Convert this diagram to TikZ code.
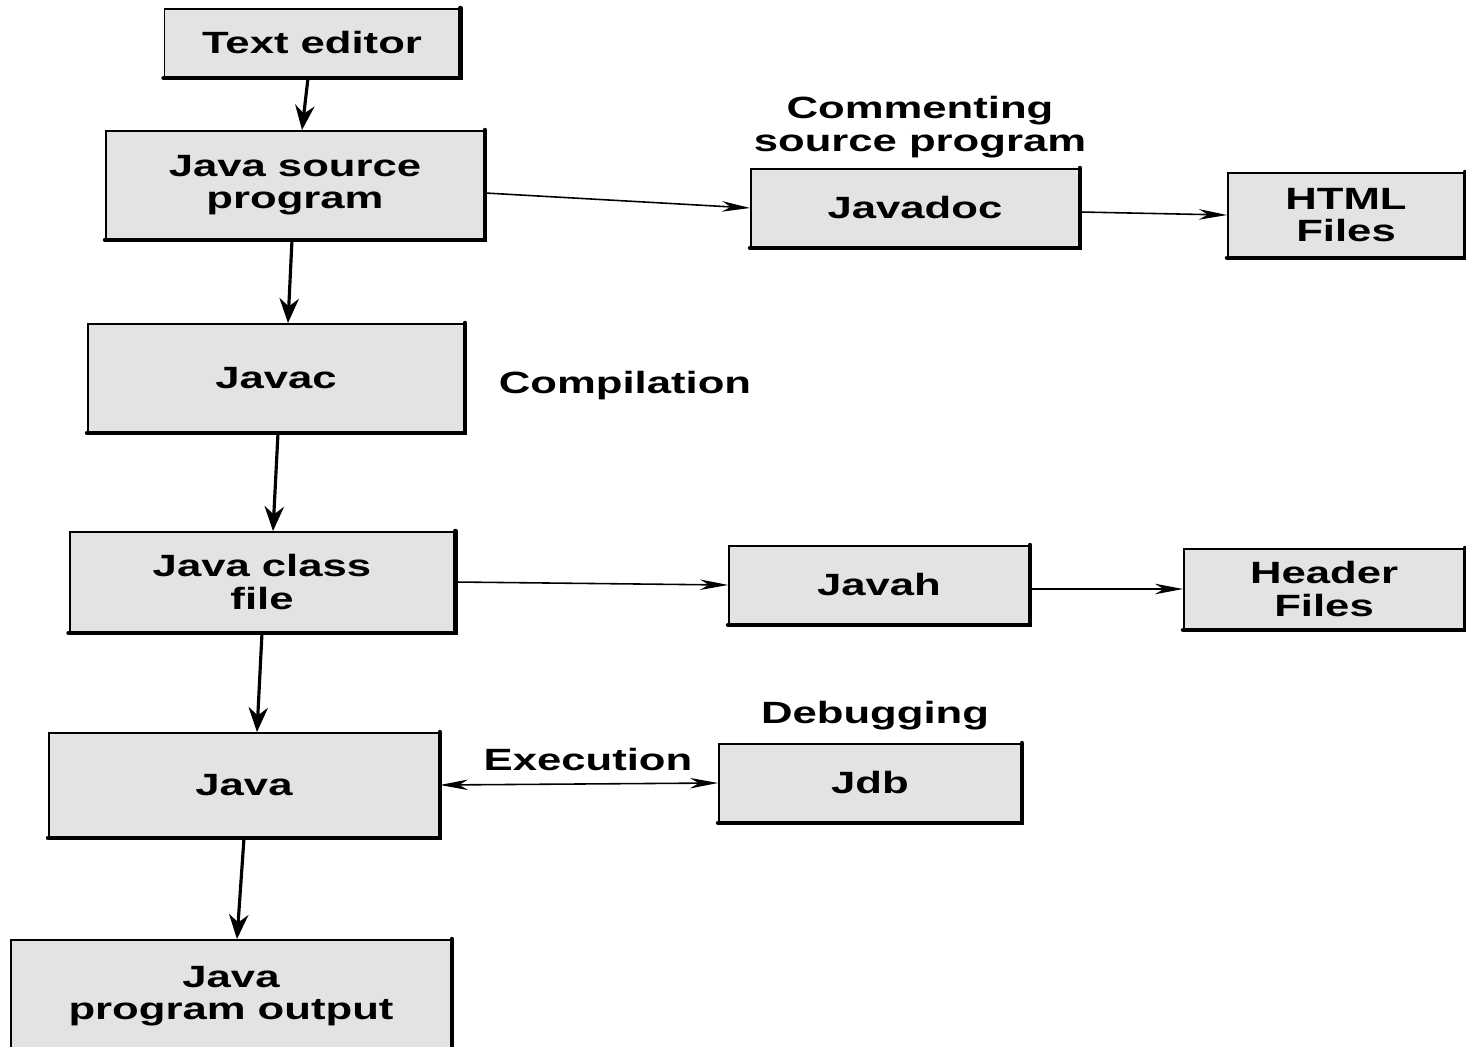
\documentclass[tikz,border=0pt]{standalone}
\usepackage{fontspec}
\setmainfont{Liberation Sans}[FakeStretch=1.42]
\usetikzlibrary{arrows.meta}
\begin{document}
\begin{tikzpicture}[x=0.02cm,y=-0.02cm,
  box/.style={draw, line width=1.1pt, fill=gray!22, align=center,
    font=\fontsize{17.5}{18.5}\selectfont\bfseries, inner sep=0pt},
  lbl/.style={align=center, font=\fontsize{17.5}{18.5}\selectfont\bfseries, inner sep=0pt},
  down/.style={line width=1.8pt, -{Stealth[length=14pt,width=11pt]}},
  side/.style={line width=0.9pt, -{Stealth[length=16pt,width=6pt,inset=5pt]}},
  both/.style={line width=0.9pt, {Stealth[length=16pt,width=6pt,inset=5pt]}-{Stealth[length=16pt,width=6pt,inset=5pt]}}]
\useasboundingbox (0,0) rectangle (1466,1047);
\clip (0,0) rectangle (1466,1047);
\fill[white] (0,0) rectangle (1466,1047);

% boxes
\node[box, minimum width=5.9cm,  minimum height=1.36cm] (te)   at (312,43)  {Text editor};
\node[box, minimum width=7.56cm, minimum height=2.16cm] (jsp)  at (295,185) {Java source\\program};
\node[box, minimum width=6.56cm, minimum height=1.56cm] (jd)   at (915,208) {Javadoc};
\node[box, minimum width=4.72cm, minimum height=1.68cm] (html) at (1346,215) {HTML\\Files};
\node[box, minimum width=7.52cm, minimum height=2.16cm] (jc)   at (276,378) {Javac};
\node[box, minimum width=7.7cm,  minimum height=2.0cm]  (jcf)  at (262,582) {Java class\\file};
\node[box, minimum width=6.0cm,  minimum height=1.56cm] (jh)   at (879,585) {Javah};
\node[box, minimum width=5.6cm,  minimum height=1.6cm]  (hf)   at (1324,589) {Header\\Files};
\node[box, minimum width=7.8cm,  minimum height=2.08cm] (jv)   at (244,785) {Java};
\node[box, minimum width=6.04cm, minimum height=1.56cm] (jdb)  at (870,783) {Jdb};
\node[box, minimum width=8.8cm,  minimum height=2.24cm] (out)  at (231,996) {Java\\program output};

% heavier right and bottom edges
\foreach \n in {te,jsp,jd,html,jc,jcf,jh,hf,jv,jdb,out}
  \draw[line width=2.6pt, line cap=round]
    (\n.north east) -- (\n.south east) -- (\n.south west);

% labels
\node[lbl] (lcom)  at (920,127) {Commenting\\source program};
\node[lbl] (lcomp) at (625,386) {Compilation};
\node[lbl] (ldbg)  at (875,716) {Debugging};
\node[lbl] (lexe)  at (588,760) {Execution};

% main flow
\draw[down] ([xshift=-0.08cm]te.south) -- ([xshift=0.14cm]jsp.north);
\draw[down] ([xshift=-0.06cm]jsp.south) -- ([xshift=0.24cm]jc.north);
\draw[down] ([xshift=0.04cm]jc.south)  -- ([xshift=0.22cm]jcf.north);
\draw[down] (jcf.south) -- ([xshift=0.26cm]jv.north);
\draw[down] (jv.south)  -- ([xshift=0.12cm]out.north);

% side branches
\draw[side] ([yshift=-0.16cm]jsp.east) -- (jd.west);
\draw[side] ([yshift=-0.08cm]jd.east)  -- (html.west);
\draw[side] (jcf.east) -- (jh.west);
\draw[side] ([yshift=-0.08cm]jh.east)  -- (hf.west);
\draw[both] (jv.east)  -- (jdb.west);
\end{tikzpicture}
\end{document}
